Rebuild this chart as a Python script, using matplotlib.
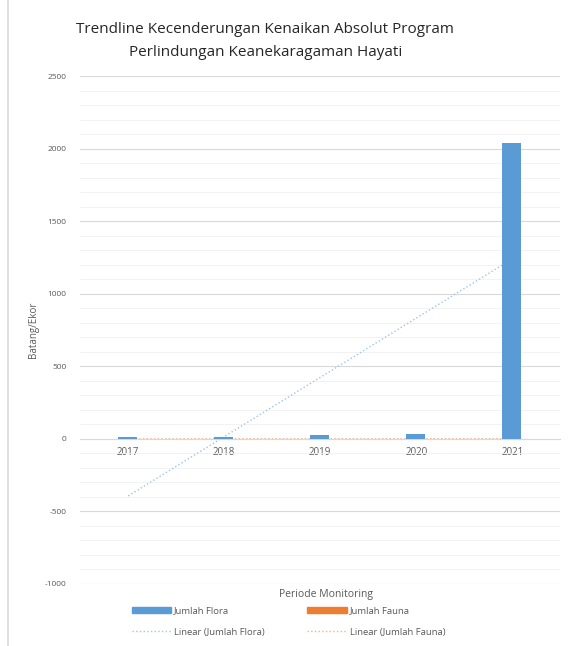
import matplotlib
matplotlib.use("Agg")
import matplotlib.pyplot as plt
import numpy as np
from matplotlib.lines import Line2D
from matplotlib.patches import Patch

years = ["2017", "2018", "2019", "2020", "2021"]
flora = [10, 10, 25, 35, 2040]
fauna = [1, 1, 1, 1, 2]

plt.rcParams['font.family'] = ['Open Sans', 'DejaVu Sans']
plt.rcParams['axes.unicode_minus'] = False
txt = '#595959'

fig = plt.figure(figsize=(5.77, 6.46), dpi=100)
ax = fig.add_axes([0.139, 0.096, 0.832, 0.786])

x = np.arange(len(years))
w = 0.2
ax.bar(x - 0.01, flora, width=w, color='#5B9BD5', zorder=3)
ax.bar(x + w - 0.01, fauna, width=w, color='#ED7D31', zorder=3)

# trendlines
for vals, col in ((flora, '#9DC3E6'), (fauna, '#F4B183')):
    c = np.polyfit(x, vals, 1)
    ax.plot(x, np.polyval(c, x), linestyle=':', color=col, lw=1.0, zorder=2)

ax.set_ylim(-1000, 2500)
ax.set_xlim(-0.5, 4.5)
ax.set_yticks(np.arange(-1000, 2501, 500))
ax.set_yticks(np.arange(-1000, 2501, 100), minor=True)
ax.yaxis.grid(True, which='major', color='#d9d9d9', lw=0.8, zorder=0)
ax.yaxis.grid(True, which='minor', color='#f0f0f0', lw=0.6, zorder=0)
ax.tick_params(axis='y', which='both', length=0, labelsize=6, labelcolor=txt, pad=10)
ax.set_xticks(x)
ax.set_xticklabels(years)
ax.tick_params(axis='x', length=0, labelsize=7, labelcolor=txt, pad=6)
for s in ['left', 'right', 'top']:
    ax.spines[s].set_visible(False)
ax.spines['bottom'].set_position(('data', 0))
ax.spines['bottom'].set_color('#d9d9d9')

ax.set_ylabel('Batang/Ekor', fontsize=7, color=txt, labelpad=4)

fig.text(0.46, 0.955, 'Trendline Kecenderungan Kenaikan Absolut Program', ha='center',
         va='center', fontsize=11, color='#262626')
fig.text(0.46, 0.918, 'Perlindungan Keanekaragaman Hayati', ha='center',
         va='center', fontsize=11, color='#262626')
fig.text(0.565, 0.079, 'Periode Monitoring', ha='center', va='center', fontsize=7.5, color=txt)

handles = [Patch(color='#5B9BD5'),
           Line2D([], [], color='#9DC3E6', linestyle=':', lw=1),
           Patch(color='#ED7D31'),
           Line2D([], [], color='#F4B183', linestyle=':', lw=1)]
labels = ['Jumlah Flora', 'Linear (Jumlah Flora)', 'Jumlah Fauna', 'Linear (Jumlah Fauna)']
leg = fig.legend(handles, labels, loc='center', bbox_to_anchor=(0.50, 0.038), ncol=2,
                 frameon=False, fontsize=6.8, labelcolor=txt, handlelength=4.2,
                 handleheight=0.6, columnspacing=4.5, handletextpad=0.3, labelspacing=1.3)

fig.add_artist(Line2D([0.014, 0.014], [0, 1], color='#d9d9d9', lw=1.2, transform=fig.transFigure))

fig.savefig('out.png', dpi=100)
